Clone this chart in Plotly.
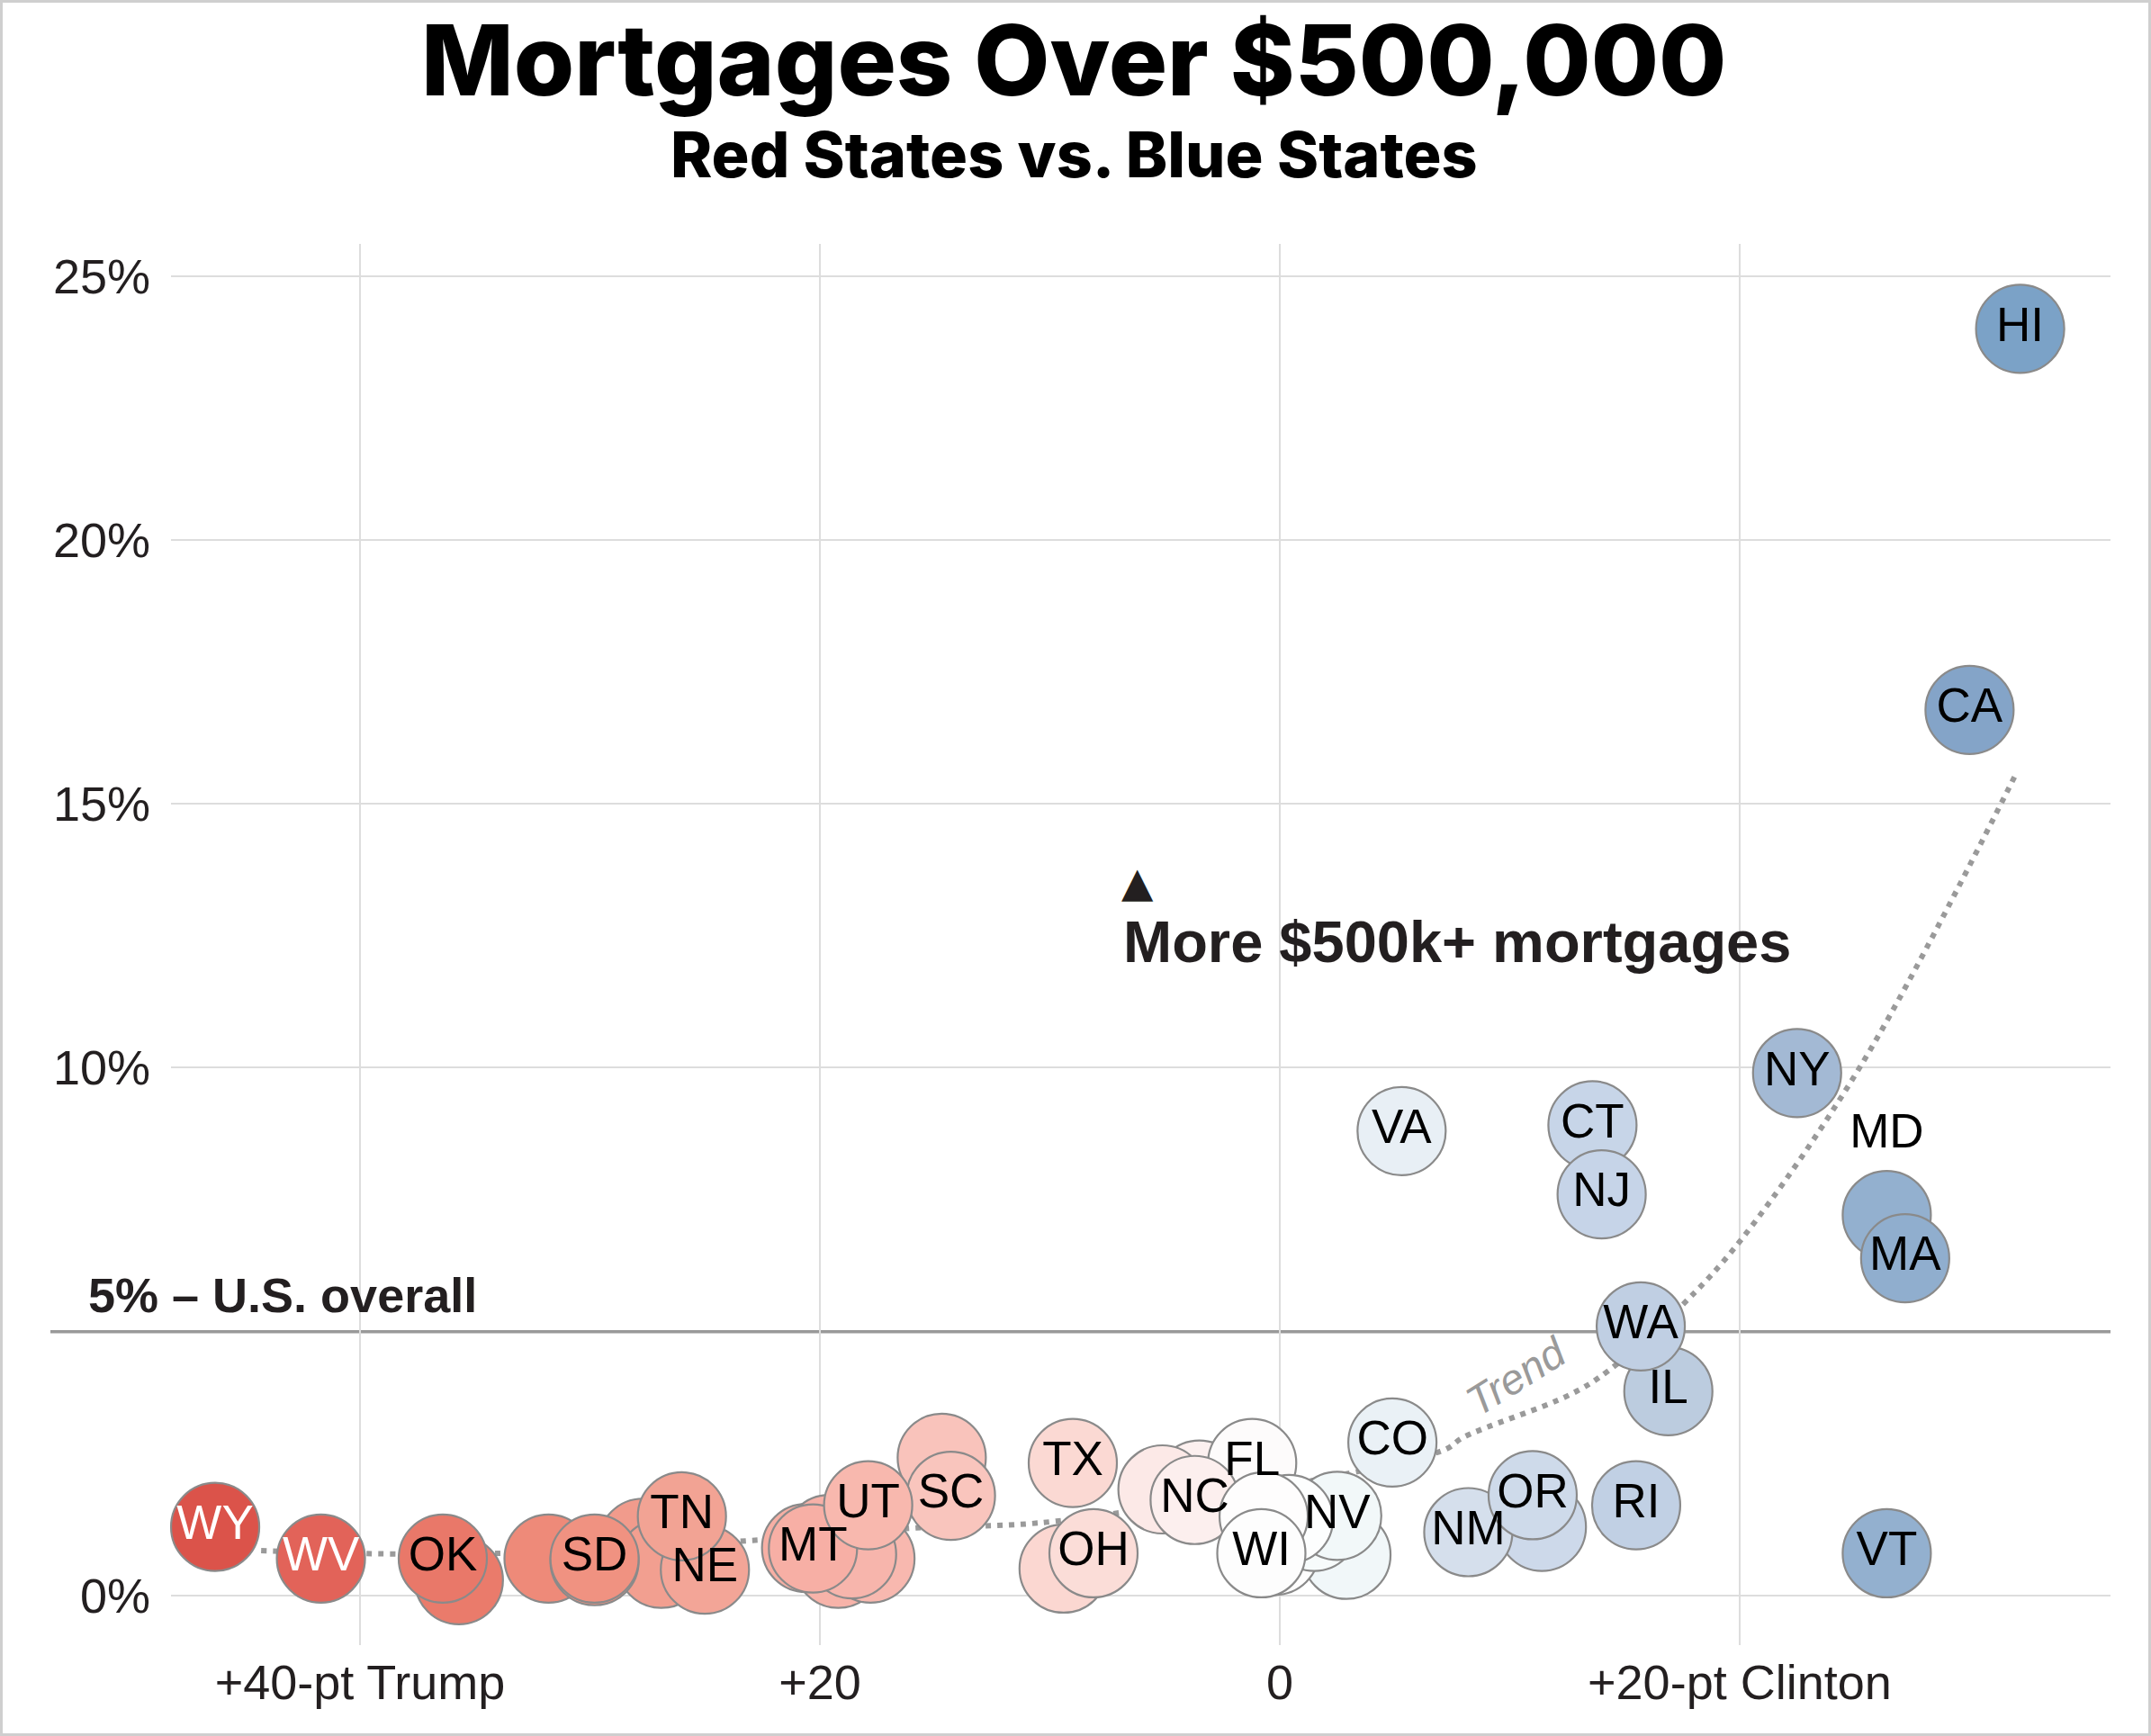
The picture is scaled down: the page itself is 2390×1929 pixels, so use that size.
import plotly.graph_objects as go

# ---------------- data ----------------
states = ["AL","AK","AZ","AR","CA","CO","CT","DE","FL","GA","HI","ID","IL","IN","IA","KS","KY",
          "LA","ME","MD","MA","MI","MN","MS","MO","MT","NE","NV","NH","NJ","NM","NY","NC","ND",
          "OH","OK","OR","PA","RI","SC","SD","TN","TX","UT","VT","VA","WA","WV","WI","WY"]

# 2016 presidential margin (Clinton minus Trump, points)
margin = [-27.7,-14.7,-3.5,-26.9,30.0,4.9,13.6,11.4,-1.2,-5.1,32.2,-31.8,16.9,-19.2,-9.4,-20.6,-29.8,
          -19.6,2.9,26.4,27.2,-0.2,1.5,-17.8,-18.6,-20.3,-25.0,2.5,0.4,14.0,8.2,22.5,-3.7,-35.7,
          -8.1,-36.4,11.0,-0.7,15.5,-14.3,-29.8,-26.0,-9.0,-17.9,26.4,5.3,15.7,-41.7,-0.8,-46.3]

# share of mortgages over $500,000 (%)
share = [1.00,2.61,2.10,0.60,16.78,2.90,8.91,1.30,2.51,2.01,24.0,0.70,3.87,0.60,0.51,0.90,0.65,
         1.07,0.77,7.21,6.39,0.85,1.30,0.70,0.78,0.89,0.49,1.51,1.45,7.60,1.20,9.90,1.81,0.29,
         0.80,0.70,1.90,1.50,1.71,1.89,0.70,1.50,2.51,1.71,0.80,8.80,5.10,0.70,0.80,1.30]

labeled = ["WY","WV","OK","SD","TN","NE","MT","UT","SC","TX","OH","NC","FL","WI","NV","CO",
           "NM","OR","RI","WA","IL","VA","CT","NJ","NY","MD","MA","VT","CA","HI"]
label_above = ["MD"]

trend_x = [-44.3, -39.0, -34.0, -22.7, -15.8, -9.7, 7.1, 8.0, 12.6, 14.3, 17.5, 20.1, 25.3, 32.0]
trend_y = [0.85, 0.79, 0.80, 1.05, 1.28, 1.41, 2.75, 3.0, 3.8, 4.26, 5.5, 6.76, 10.06, 15.55]

x_tickvals = [-40, -20, 0, 20]
x_ticktext = ["+40-pt Trump", "+20", "0", "+20-pt Clinton"]
y_tickvals = [0, 10, 15, 20, 25]
y_ticktext = ["0%", "10%", "15%", "20%", "25%"]
us_overall = 5

# colour scale keyed on margin
cs_vals = [-46.3, -42, -36, -30, -26, -20, -14, -9, -4, -1, 0, 2.5, 5, 8, 14, 17, 22.5, 26.5, 30, 32.2]
cs_cols = ["#DB534A", "#E26258", "#EA7A6A", "#F09180", "#F2A394", "#F7B0A6", "#F9C6BE", "#FBD9D3",
           "#FCEEEC", "#FDFCFC", "#FFFFFF", "#F2F8F9", "#EAF1F6", "#D5DFEC", "#C6D4E8", "#BCCCDF",
           "#A3B9D4", "#93B0CF", "#84A4C8", "#7BA2C7"]

# ---------------- layout geometry ----------------
W, H = 2390, 1929
ML, MR, MT, MB = 190, 45, 271, 101
PW, PH = W - ML - MR, H - MT - MB
XR = [-48.22, 36.13]
YR = [-0.94, 25.61]

def px_x(p):
    return (p - ML) / PW

def px_y(p):
    return (H - MB - p) / PH

def data_x(p):
    return XR[0] + (p - ML) / PW * (XR[1] - XR[0])

def data_y(p):
    return YR[0] + (H - MB - p) / PH * (YR[1] - YR[0])

cmin, cmax = cs_vals[0], cs_vals[-1]
colorscale = [[(v - cmin) / (cmax - cmin), c] for v, c in zip(cs_vals, cs_cols)]

LABEL_FONT = "Liberation Sans Narrow, Arial Narrow, Liberation Sans, Arial, sans-serif"
TICK_FONT = "Liberation Sans, Arial, sans-serif"
TITLE_FONT = "Inter, Lato, sans-serif"

fig = go.Figure()

fig.add_trace(go.Scatter(
    x=trend_x, y=trend_y, mode="lines",
    line=dict(color="#9a9a9a", width=6, dash="6px,7px", shape="spline", smoothing=1.0),
    hoverinfo="skip", showlegend=False))

texts = [s if s in labeled else "" for s in states]
tcols = ["white" if m < -40 else "black" for m in margin]
tpos = ["top center" if s in label_above else "middle center" for s in states]

fig.add_trace(go.Scatter(
    x=margin, y=share, mode="markers+text", text=texts, textposition=tpos,
    textfont=dict(family=LABEL_FONT, size=53, color=tcols),
    marker=dict(size=98, color=margin, colorscale=colorscale, cmin=cmin, cmax=cmax,
                line=dict(color="#8a8a8a", width=2.2)),
    cliponaxis=False, hoverinfo="skip", showlegend=False))

y5 = (us_overall - YR[0]) / (YR[1] - YR[0])
shapes = [
    # U.S. overall reference line (below the circles)
    dict(type="line", xref="paper", yref="paper", layer="below",
         x0=px_x(56), x1=1, y0=y5, y1=y5, line=dict(color="#999999", width=3.5)),
    # white box behind the annotation
    dict(type="rect", xref="x", yref="y", layer="below",
         x0=data_x(1240), x1=data_x(2005), y0=data_y(1113), y1=data_y(908),
         fillcolor="white", line=dict(width=0)),
    # outer border
    dict(type="rect", xref="paper", yref="paper", layer="above",
         x0=px_x(1.5), x1=px_x(W - 1.5), y0=px_y(H - 1.5), y1=px_y(1.5),
         line=dict(color="#cfcfcf", width=3)),
]

annotations = [
    dict(text="Mortgages Over $500,000", xref="paper", yref="paper",
         x=px_x(1193), y=px_y(66), xanchor="center", yanchor="middle", showarrow=False,
         font=dict(family=TITLE_FONT, size=109, color="black", weight=800)),
    dict(text="Red States vs. Blue States", xref="paper", yref="paper",
         x=px_x(1193), y=px_y(171), xanchor="center", yanchor="middle", showarrow=False,
         font=dict(family=TITLE_FONT, size=70, color="black", weight=800)),
    dict(text="▲", xref="paper", yref="paper", x=px_x(1244), y=px_y(980),
         xanchor="left", yanchor="middle", showarrow=False,
         font=dict(family="DejaVu Sans, sans-serif", size=46, color="#231f20")),
    dict(text="<b>More $500k+ mortgages</b>", xref="paper", yref="paper",
         x=px_x(1246), y=px_y(1046), xanchor="left", yanchor="middle", showarrow=False,
         font=dict(family=TICK_FONT, size=65, color="#231f20")),
    dict(text="<b>5% – U.S. overall</b>", xref="paper", yref="y",
         x=px_x(96), y=us_overall, xanchor="left", yanchor="bottom", yshift=9,
         showarrow=False, font=dict(family=TICK_FONT, size=54, color="#231f20")),
    dict(text="<i>Trend</i>", xref="x", yref="y", x=data_x(1684), y=data_y(1529),
         xanchor="center", yanchor="middle", textangle=-32, showarrow=False,
         font=dict(family=TICK_FONT, size=47, color="#9a9a9a")),
]

fig.update_layout(
    width=W, height=H,
    margin=dict(l=ML, r=MR, t=MT, b=MB, pad=0),
    paper_bgcolor="white", plot_bgcolor="rgba(0,0,0,0)",
    showlegend=False, shapes=shapes, annotations=annotations,
    xaxis=dict(range=XR, tickvals=x_tickvals, ticktext=x_ticktext, showgrid=True,
               gridcolor="#dddddd", gridwidth=2, zeroline=False, showline=False, ticks="",
               ticklabelstandoff=5,
               tickfont=dict(family=TICK_FONT, size=54, color="#231f20"), fixedrange=True),
    yaxis=dict(range=YR, tickvals=y_tickvals, ticktext=y_ticktext, showgrid=True,
               gridcolor="#dddddd", gridwidth=2, zeroline=False, showline=False, ticks="",
               ticklabelstandoff=22,
               tickfont=dict(family=TICK_FONT, size=54, color="#231f20"), fixedrange=True),
)

fig.write_html("out.html", config={"displayModeBar": False},
               post_script="document.body.style.margin='0';document.body.style.overflow='hidden';")
